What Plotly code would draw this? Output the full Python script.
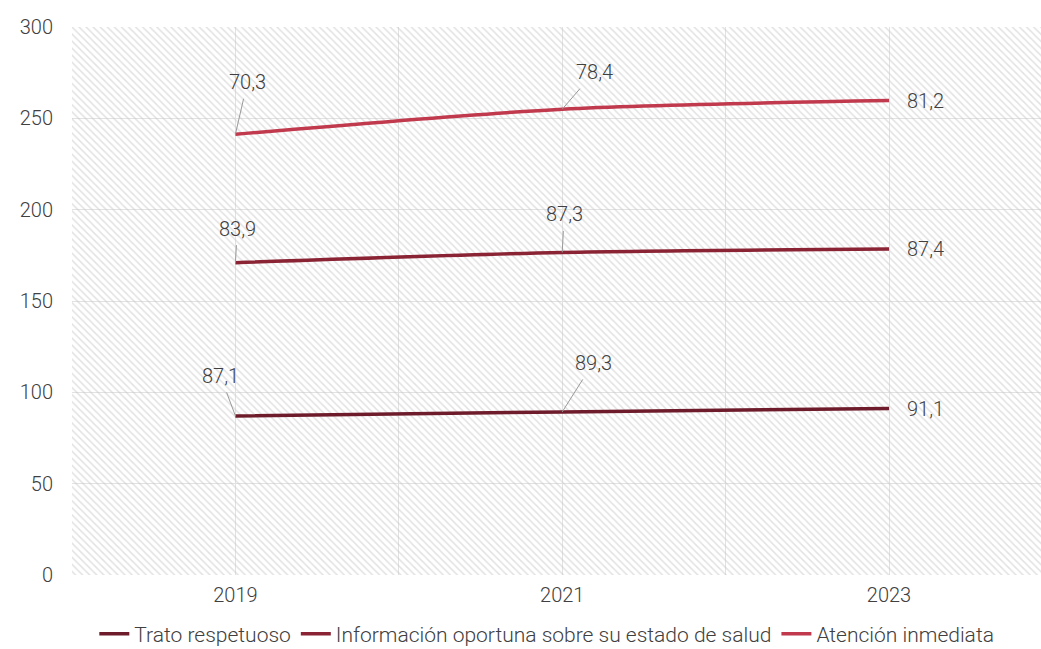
import plotly.graph_objects as go

years = [2019, 2021, 2023]
trato = [87.1, 89.3, 91.1]
informacion = [83.9, 87.3, 87.4]
atencion = [70.3, 78.4, 81.2]

series_names = ['Trato respetuoso', 'Información oportuna sobre su estado de salud', 'Atención inmediata']
series_values = [trato, informacion, atencion]
colors = ['#6e1c2b', '#8a2434', '#c0394c']

# label offsets (pixels) for the callouts, per series and year
label_offsets = [
    [(-15, -40), (31, -49), None],
    [(2, -34), (2, -38), None],
    [(12, -52), (32, -37), None],
]

x_range = [2018, 2023.93]
y_range = [0, 300]
text_color = '#404040'
font_family = 'Roboto'
font_weight = 300

fig = go.Figure()

# hatched plot background
fig.add_trace(go.Scatter(
    x=[x_range[0], x_range[1], x_range[1], x_range[0], x_range[0]],
    y=[y_range[0], y_range[0], y_range[1], y_range[1], y_range[0]],
    mode='none', fill='toself', fillcolor='rgba(0,0,0,0)',
    fillpattern=dict(shape='\\', fgcolor='#c6c6c6', bgcolor='rgba(255,255,255,0)',
                     size=5, solidity=0.3),
    hoverinfo='skip', showlegend=False))

for name, vals, col in zip(series_names, series_values, colors):
    fig.add_trace(go.Scatter(
        x=years, y=vals, name=name, mode='lines', stackgroup='one', fill='none',
        line=dict(color=col, width=3.5, shape='spline', smoothing=0.8)))

# callout labels on the stacked positions
cum = [0, 0, 0]
annotations = []
lab_font = dict(size=20, color=text_color, family=font_family, weight=font_weight)
for vals, offs in zip(series_values, label_offsets):
    cum = [c + v for c, v in zip(cum, vals)]
    for i, (yr, v) in enumerate(zip(years, vals)):
        label = f'{v:.1f}'.replace('.', ',')
        if offs[i] is None:
            annotations.append(dict(x=yr, y=cum[i], text=label, showarrow=False,
                                    xanchor='left', xshift=16, font=lab_font))
        else:
            ax, ay = offs[i]
            annotations.append(dict(x=yr, y=cum[i], text=label, showarrow=True,
                                    arrowhead=0, arrowwidth=1, arrowcolor='#9a9a9a',
                                    ax=ax, ay=ay, borderpad=4, standoff=0, font=lab_font))

fig.update_layout(
    width=1041, height=649,
    margin=dict(l=72, r=0, t=27, b=74, autoexpand=False),
    plot_bgcolor='white', paper_bgcolor='white',
    font=dict(family=font_family, size=20, color=text_color, weight=font_weight),
    annotations=annotations,
    showlegend=True,
    legend=dict(orientation='h', x=0.49, xanchor='center', y=-0.108, yanchor='middle',
                font=dict(size=21, color=text_color, weight=font_weight),
                traceorder='normal'),
    xaxis=dict(range=x_range, tickvals=[2018, 2019, 2020, 2021, 2022, 2023],
               ticktext=['', '2019', '', '2021', '', '2023'], automargin=False,
               showgrid=True, gridcolor='#e2e2e2', gridwidth=1, zeroline=False,
               showline=False, ticks='', ticklabelstandoff=6),
    yaxis=dict(range=y_range, dtick=50, showgrid=True, gridcolor='#e2e2e2', gridwidth=1,
               zeroline=False, showline=False, ticks='', ticklabelstandoff=18,
               automargin=False),
)

fig.write_html('out.html', config={'displayModeBar': False},
               post_script="document.body.style.margin='0';")
